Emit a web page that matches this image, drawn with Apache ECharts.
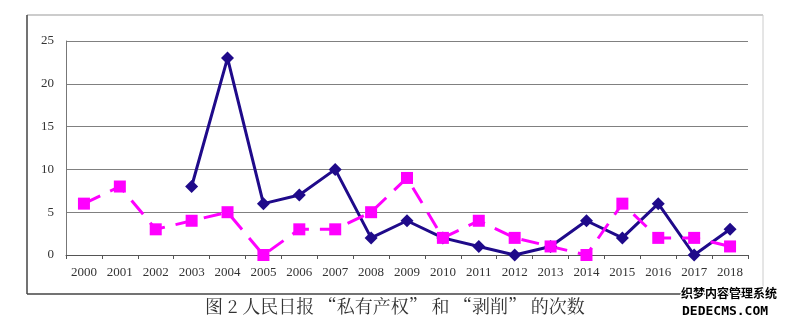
<!DOCTYPE html>
<html><head><meta charset="utf-8">
<script src="https://cdn.jsdelivr.net/npm/echarts@6/dist/echarts.min.js"></script>
<style>html,body{margin:0;padding:0;background:#fff}#c{width:789px;height:324px}</style>
</head><body><div id="c"></div>
<script>
var years = ['2000','2001','2002','2003','2004','2005','2006','2007','2008','2009','2010','2011','2012','2013','2014','2015','2016','2017','2018'];
var privateProperty = [null,null,null,8,23,6,7,10,2,4,2,1,0,1,4,2,6,0,3];
var exploitation = [6,8,3,4,5,0,3,3,5,9,2,4,2,1,0,6,2,2,1];
var yTicks = [0,5,10,15,20,25];
var caption = '图 2 人民日报 “私有产权” 和 “剥削” 的次数';

var chart = echarts.init(document.getElementById('c'));
var serif = '"Liberation Serif","DejaVu Serif",serif';
chart.setOption({
  animation: false,
  backgroundColor: '#fff',
  grid: {left: 66, right: 41, top: 41, bottom: 69},
  xAxis: {
    type: 'category', data: years, boundaryGap: true,
    axisLine: {lineStyle: {color: '#555', width: 1}},
    axisTick: {show: true, length: 4, inside: false, lineStyle: {color: '#555'}},
    axisLabel: {color: '#333', fontFamily: serif, fontSize: 13, margin: 11}
  },
  yAxis: {
    type: 'value', min: yTicks[0], max: yTicks[yTicks.length-1], interval: 5,
    axisLine: {show: true, lineStyle: {color: '#777', width: 1}},
    axisTick: {show: false},
    splitLine: {lineStyle: {color: '#808080', width: 1}},
    axisLabel: {color: '#333', fontFamily: serif, fontSize: 13, margin: 12}
  },
  series: [
    {type: 'line', data: privateProperty, connectNulls: false,
     symbol: 'diamond', symbolSize: 13,
     lineStyle: {color: '#1f0a8a', width: 3},
     itemStyle: {color: '#1f0a8a'}},
    {type: 'line', data: exploitation,
     symbol: 'rect', symbolSize: 12,
     lineStyle: {color: '#ff00ff', width: 3, type: [18, 11]},
     itemStyle: {color: '#ff00ff'}}
  ],
  graphic: [
    {type: 'line', shape: {x1: 27, y1: 15, x2: 763, y2: 15}, style: {stroke: '#999', lineWidth: 1}},
    {type: 'line', shape: {x1: 27, y1: 15, x2: 27, y2: 294}, style: {stroke: '#444', lineWidth: 1.5}},
    {type: 'line', shape: {x1: 27, y1: 294, x2: 763, y2: 294}, style: {stroke: '#444', lineWidth: 1.5}},
    {type: 'line', shape: {x1: 763, y1: 15, x2: 763, y2: 294}, style: {stroke: '#ccc', lineWidth: 1}},
    {type: 'text', left: 205, top: 297, style: {text: caption, font: '18px "Noto Serif CJK SC","Noto Sans CJK SC",serif', fill: '#333'}},
    {type: 'text', left: 680, top: 286, style: {text: '织梦内容管理系统', font: 'bold 12px "Noto Sans CJK SC",sans-serif', fill: '#000', stroke: '#fff', lineWidth: 2}},
    {type: 'text', left: 681, top: 304, style: {text: 'DEDECMS.COM', font: 'bold 13px "DejaVu Sans Mono",monospace', fill: '#000', stroke: '#fff', lineWidth: 2}}
  ]
});
</script></body></html>
